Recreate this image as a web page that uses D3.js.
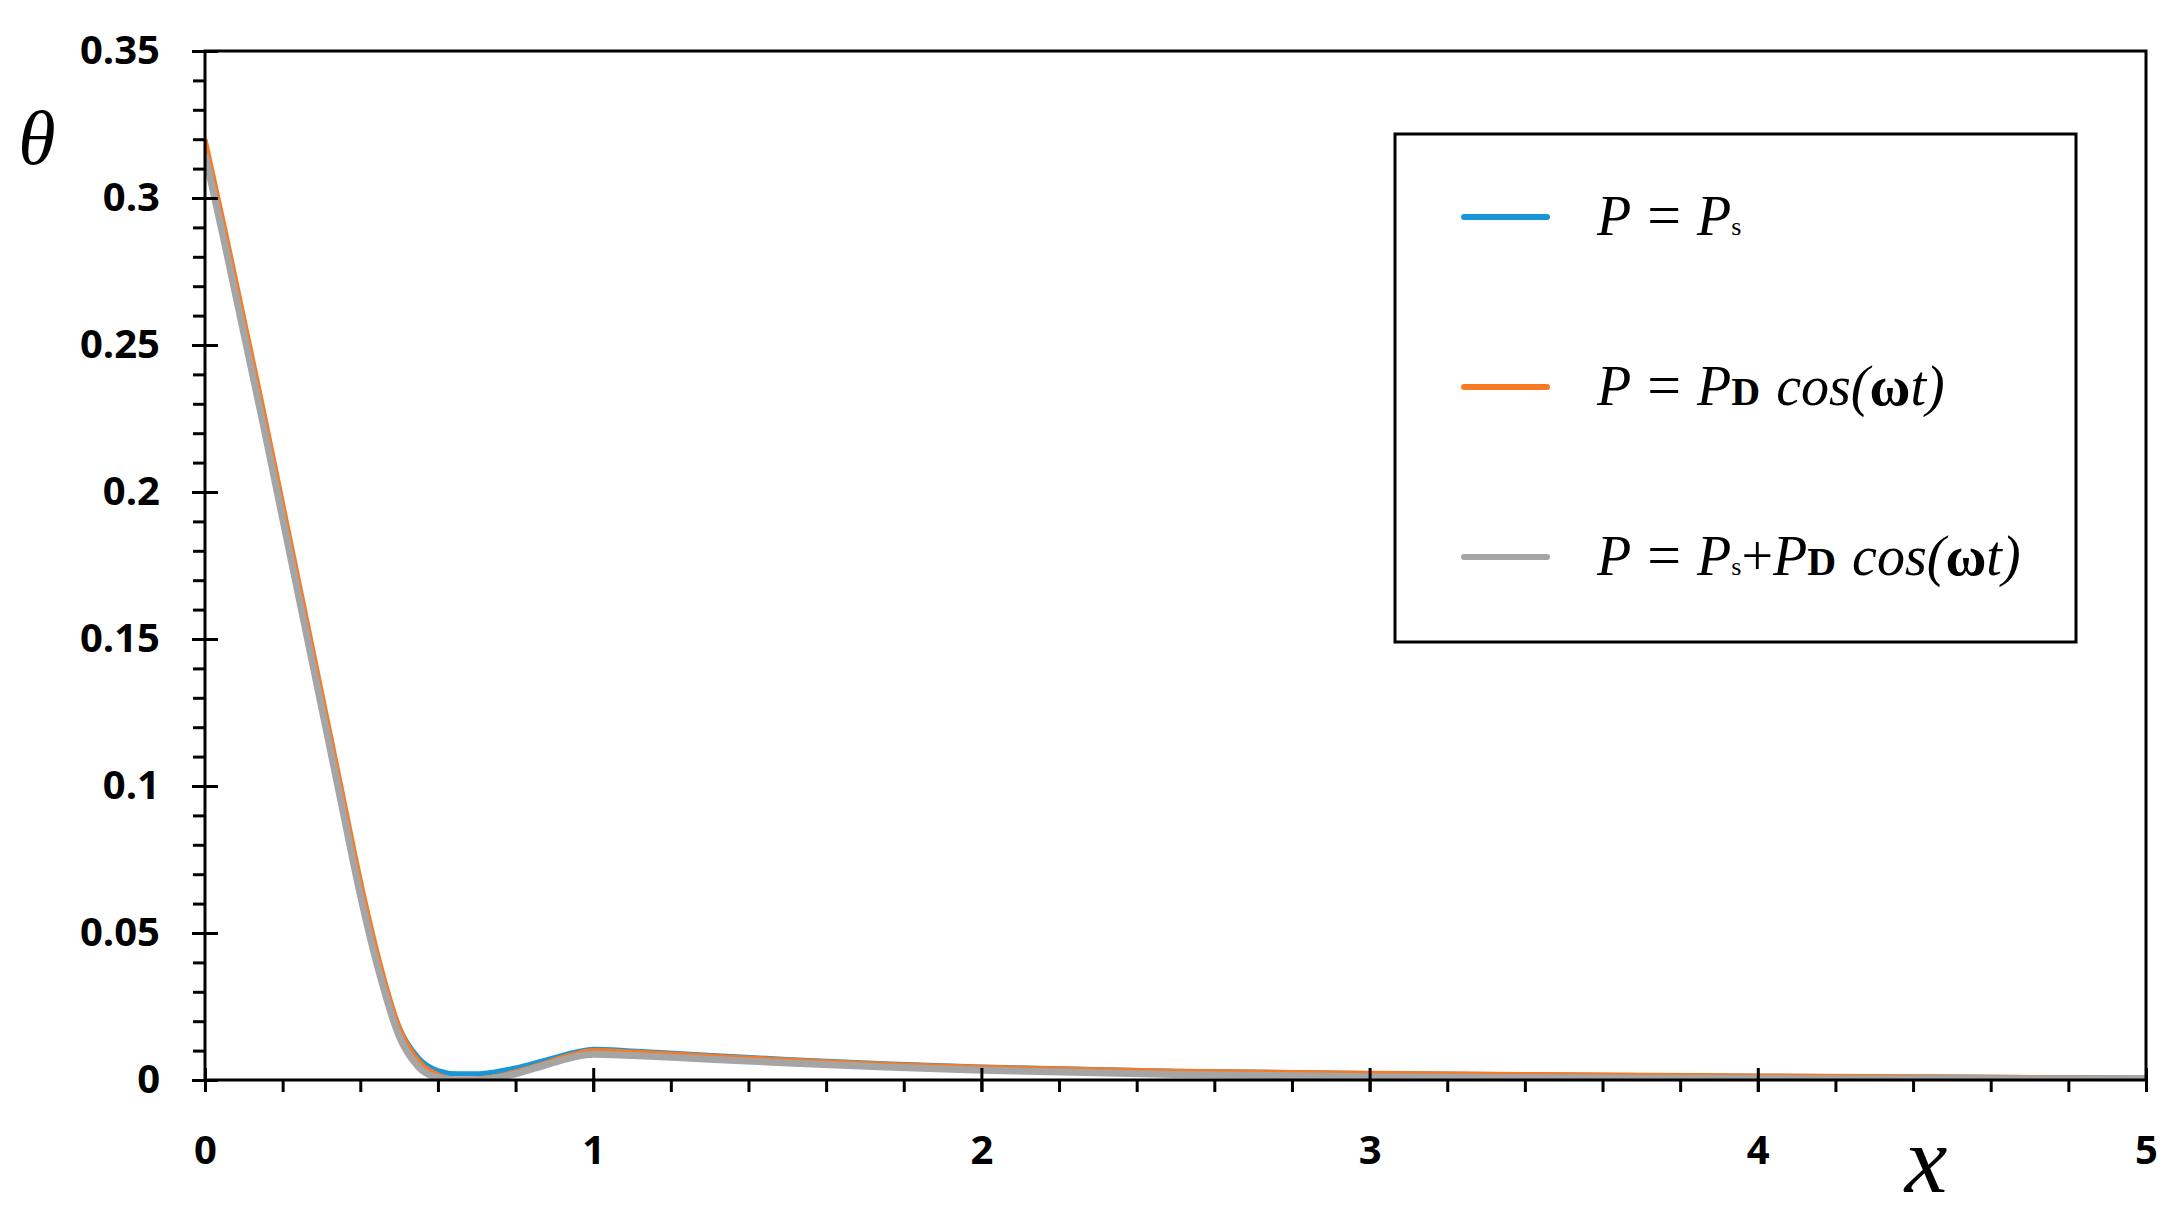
<!DOCTYPE html>
<html>
<head>
<meta charset="utf-8">
<script src="https://cdn.jsdelivr.net/npm/d3@7"></script>
<style>
  html, body { margin: 0; padding: 0; background: #fff; }
  svg { display: block; }
  .tick text { font-family: "Open Sans", sans-serif; font-weight: 700; font-size: 40px; fill: #000; }
  .tick line { stroke: #000; stroke-width: 3px; }
  .math { font-family: "Liberation Serif", "DejaVu Serif", serif; }
</style>
</head>
<body>
<svg id="chart"></svg>
<script>
// x positions along the fin
var xs = [0, 0.05, 0.1, 0.15, 0.2, 0.25, 0.3, 0.35, 0.4, 0.45, 0.5, 0.55, 0.6, 0.65, 0.7, 0.75, 0.8, 0.85, 0.9, 0.95, 1.0, 1.1, 1.25, 1.5, 1.75, 2.0, 2.5, 3.0, 3.5, 4.0, 4.5, 5.0];
// theta for P = Ps
var thetaPs = [0.318, 0.288, 0.257, 0.226, 0.194, 0.162, 0.130, 0.098, 0.066, 0.039, 0.018, 0.0075, 0.0032, 0.0021, 0.0021, 0.0028, 0.0041, 0.0058, 0.0076, 0.0094, 0.0105, 0.0099, 0.0088, 0.0070, 0.0055, 0.0044, 0.0030, 0.0022, 0.0017, 0.0013, 0.0010, 0.0007];
// theta for P = PD cos(wt)
var thetaPD = [0.320, 0.290, 0.259, 0.228, 0.196, 0.164, 0.132, 0.100, 0.068, 0.040, 0.018, 0.0065, 0.0018, 0.0003, 0.0004, 0.0012, 0.0028, 0.0047, 0.0068, 0.0088, 0.0100, 0.0095, 0.0085, 0.0068, 0.0054, 0.0043, 0.0030, 0.0023, 0.0018, 0.0014, 0.0010, 0.0006];
// theta for P = Ps + PD cos(wt)
var thetaBoth = [0.315, 0.285, 0.254, 0.223, 0.191, 0.159, 0.127, 0.095, 0.063, 0.036, 0.015, 0.0045, 0.0008, 0.0000, 0.0000, 0.0007, 0.0021, 0.0040, 0.0060, 0.0078, 0.0088, 0.0083, 0.0074, 0.0058, 0.0044, 0.0033, 0.0019, 0.0011, 0.0008, 0.0005, 0.0004, 0.0003];

var xMajor = [0, 1, 2, 3, 4, 5];
var xMinor = d3.range(0, 5.0001, 0.2);
var yMajor = [0, 0.05, 0.1, 0.15, 0.2, 0.25, 0.3, 0.35];
var yLabels = ["0", "0.05", "0.1", "0.15", "0.2", "0.25", "0.3", "0.35"];
var yMinor = d3.range(0, 0.3501, 0.01);

var W = 2182, H = 1215;
var margin = { left: 205, right: 36, top: 51, bottom: 135 };

var svg = d3.select("#chart").attr("width", W).attr("height", H);

var x = d3.scaleLinear().domain([0, 5]).range([margin.left, W - margin.right]);
var y = d3.scaleLinear().domain([0, 0.35]).range([H - margin.bottom, margin.top]);
var x0 = x(0), y0 = y(0);

svg.append("clipPath").attr("id", "plot")
  .append("rect").attr("x", x(0)).attr("y", y(0.35))
  .attr("width", x(5) - x(0)).attr("height", y(0) - y(0.35));

// curves: blue under orange under gray
var series = [
  { v: thetaPs, c: "#1a96d8", w: 5 },
  { v: thetaPD, c: "#f97a22", w: 5 },
  { v: thetaBoth, c: "#a5a5a5", w: 7 }
];
var line = d3.line().x(function (d, i) { return x(xs[i]); }).y(function (d) { return y(d); }).curve(d3.curveMonotoneX);

svg.append("g").attr("clip-path", "url(#plot)")
  .selectAll("path").data(series).enter().append("path")
  .attr("d", function (s) { return line(s.v); })
  .attr("fill", "none").attr("stroke", function (s) { return s.c; })
  .attr("stroke-width", function (s) { return s.w; })
  .attr("stroke-linejoin", "round");

// y ticks: minor outside, major crossing
svg.append("g").attr("transform", "translate(" + x0 + ",0)")
  .call(d3.axisLeft(y).tickValues(yMinor).tickSize(12).tickFormat(""))
  .call(function (s) { s.select(".domain").remove(); });
svg.append("g").attr("transform", "translate(" + (x0 + 13) + ",0)")
  .call(d3.axisLeft(y).tickValues(yMajor).tickSize(26).tickPadding(32).tickFormat(function (d, i) { return yLabels[i]; }))
  .call(function (s) { s.select(".domain").remove(); });

// x ticks
svg.append("g").attr("transform", "translate(0," + y0 + ")")
  .call(d3.axisBottom(x).tickValues(xMinor).tickSize(12).tickFormat(""))
  .call(function (s) { s.select(".domain").remove(); });
svg.append("g").attr("transform", "translate(0," + (y0 - 12) + ")")
  .call(d3.axisBottom(x).tickValues(xMajor).tickSize(24).tickPadding(44).tickFormat(d3.format("d")))
  .call(function (s) { s.select(".domain").remove(); });

// plot frame
svg.append("rect").attr("x", x0).attr("y", y(0.35))
  .attr("width", x(5) - x0).attr("height", y0 - y(0.35))
  .attr("fill", "none").attr("stroke", "#000").attr("stroke-width", 3);

// axis titles
svg.append("text").attr("class", "math").attr("x", 37).attr("y", 164)
  .attr("text-anchor", "middle").attr("font-style", "italic").attr("font-size", 76).text("θ");
svg.append("text").attr("class", "math").attr("x", 1926).attr("y", 1192)
  .attr("text-anchor", "middle").attr("font-style", "italic").attr("font-size", 96).text("x");

// legend
var lg = svg.append("g");
lg.append("rect").attr("x", 1395).attr("y", 134).attr("width", 681).attr("height", 508)
  .attr("fill", "#fff").attr("stroke", "#000").attr("stroke-width", 3);

var legendRows = [
  [["P", "i"], ["=", "eq"], ["P", "i"], ["s", "sub"]],
  [["P", "i"], ["=", "eq"], ["P", "i"], ["D", "big"], ["cos(", "cos"], ["ω", "b"], ["t)", "i"]],
  [["P", "i"], ["=", "eq"], ["P", "i"], ["s", "sub"], ["+", "n"], ["P", "i"], ["D", "big"], ["cos(", "cos"], ["ω", "b"], ["t)", "i"]]
];
var rowY = [217, 387, 557];

series.forEach(function (s, i) {
  lg.append("line").attr("x1", 1464).attr("x2", 1547).attr("y1", rowY[i]).attr("y2", rowY[i])
    .attr("stroke", s.c).attr("stroke-width", 6).attr("stroke-linecap", "round");
  var t = lg.append("text").attr("class", "math").attr("x", 1597).attr("y", rowY[i] + 18)
    .attr("font-size", 56).attr("fill", "#000");
  legendRows[i].forEach(function (p) {
    var ts = t.append("tspan").text(p[0]);
    if (p[1] === "i") ts.attr("font-style", "italic");
    if (p[1] === "eq") ts.attr("dx", 16).attr("font-size", 60);
    if (p[1] === "eq") { ts.attr("dx", 16); }
    if (p[1] === "sub") ts.attr("font-size", 26);
    if (p[1] === "big") ts.attr("font-size", 40).attr("font-weight", 700);
    if (p[1] === "b") ts.attr("font-weight", 700);
    if (p[1] === "cos") ts.attr("font-style", "italic").attr("dx", 16);
  });
  // space after "=" sign
  t.selectAll("tspan").filter(function (d, j) { return j === 2; }).attr("dx", 16);
});
</script>
</body>
</html>
